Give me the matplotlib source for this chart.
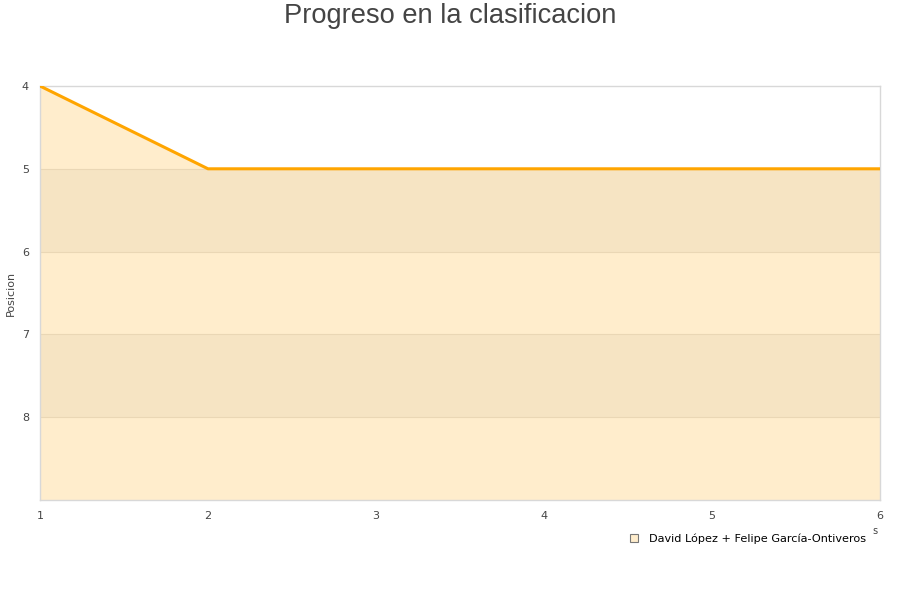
import matplotlib
matplotlib.use("Agg")
from matplotlib import pyplot as plt
from matplotlib.patches import Patch

jornadas = [1, 2, 3, 4, 5, 6]
posicion = [4, 5, 5, 5, 5, 5]
equipo = "David López + Felipe García-Ontiveros"

line_color = "#FFA500"
fill_color = "#FFEDCC"
band_color = "#F6E4C3"

fig = plt.figure(figsize=(9, 6), dpi=100)
ax = fig.add_axes([40 / 900, 1 - 500 / 600, 840 / 900, 414 / 600])

ax.set_xlim(1, 6)
ax.set_ylim(9, 4)

# fill under the line down to the bottom of the chart
ax.fill_between(jornadas, posicion, 9, color=fill_color, linewidth=0, zorder=1)
for lo, hi in [(5, 6), (7, 8)]:
    ax.axhspan(lo, hi, color=band_color, linewidth=0, zorder=1.5)
for y in [5, 6, 7, 8]:
    ax.axhline(y, color="#ead7b5", linewidth=0.8, zorder=1.6)
ax.plot(jornadas, posicion, color=line_color, linewidth=2.2, zorder=3)

ax.set_xticks(jornadas)
ax.set_yticks([4, 5, 6, 7, 8])
ax.tick_params(length=0, labelsize=8, colors="#444444", pad=8)
ax.tick_params(axis="y", pad=8)
for s in ax.spines.values():
    s.set_color("#d8d8d8")
    s.set_linewidth(1)

fig.text(11 / 900, 1 - 293 / 600, "Posicion", fontsize=8, color="#444444",
         rotation=90, ha="center", va="center")

fig.text(0.5, 1 - 16 / 600, "Progreso en la clasificacion", fontsize=19.6,
         color="#444444", family="Liberation Sans", ha="center", va="center")

handle = Patch(facecolor=fill_color, edgecolor="#777777", linewidth=0.8)
fig.legend([handle], [equipo], loc="center right", bbox_to_anchor=(866 / 900, 1 - 539 / 600),
           bbox_transform=fig.transFigure, frameon=False, fontsize=8.15,
           handlelength=0.75, handleheight=0.75, handletextpad=0.95,
           borderpad=0, borderaxespad=0)
# leftover of the x label peeking out next to the legend
fig.text(875 / 900, 1 - 531 / 600, "s", fontsize=7, color="#444444", ha="center", va="center")

fig.savefig("out.png", dpi=100)
